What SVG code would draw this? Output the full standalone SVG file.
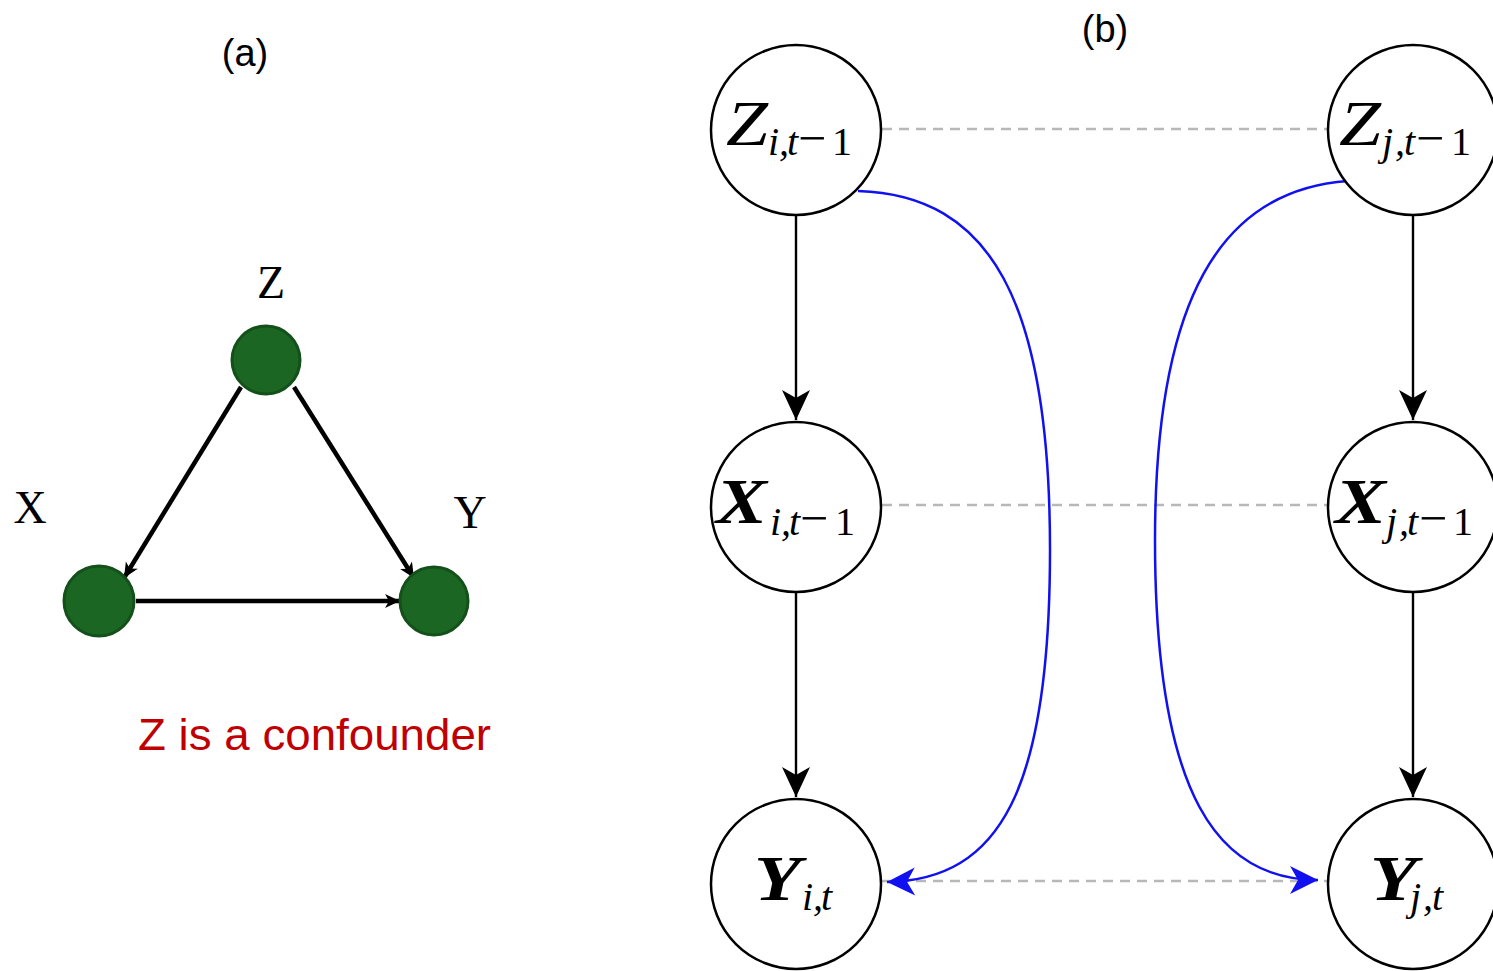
<svg xmlns="http://www.w3.org/2000/svg" width="1493" height="971" viewBox="0 0 1493 971">
<defs>
<style>
.lbl{font-family:"Liberation Sans",Arial,sans-serif;fill:#000}
.ser{font-family:"Liberation Serif","Times New Roman",serif;fill:#000}
.gn{fill:#1b6623;stroke:#14501a;stroke-width:3}
.bn{fill:#fff;stroke:#000;stroke-width:2.5}
.main{font-family:"Liberation Serif","Times New Roman",serif;font-style:italic;font-size:64px;fill:#000}
.sub{font-family:"Liberation Serif","Times New Roman",serif;font-style:italic;font-size:40px;fill:#000}
.up{font-style:normal}
.mn{font-style:normal;font-size:50px}
.ea{stroke:#000;stroke-width:4.5;fill:none}
.eb{stroke:#000;stroke-width:2.4;fill:none}
.dash{stroke:#b8b8b8;stroke-width:2.5;stroke-dasharray:10 7;fill:none}
.blue{stroke:#1010f0;stroke-width:2.5;fill:none}
</style>
<marker id="ma" viewBox="-16 -8 17 16" markerUnits="userSpaceOnUse" markerWidth="17" markerHeight="16" refX="0" refY="0" orient="auto">
<path d="M0,0 L-15,-7 L-11,0 L-15,7 Z" fill="#000"/>
</marker>
<marker id="mb" viewBox="-32 -16 34 32" markerUnits="userSpaceOnUse" markerWidth="34" markerHeight="32" refX="0" refY="0" orient="auto">
<path d="M0,0 L-30,-14 L-22,0 L-30,14 Z" fill="#000"/>
</marker>
<marker id="mblue" viewBox="-32 -16 34 32" markerUnits="userSpaceOnUse" markerWidth="34" markerHeight="32" refX="0" refY="0" orient="auto">
<path d="M0,0 L-28,-14 L-20,0 L-28,14 Z" fill="#1010f0"/>
</marker>
</defs>
<rect width="1493" height="971" fill="#fff"/>

<text class="lbl" x="245" y="66" font-size="38" text-anchor="middle">(a)</text>
<text class="lbl" x="1105" y="42" font-size="38" text-anchor="middle">(b)</text>

<g id="edges">
<line class="ea" x1="241" y1="387" x2="124" y2="578" marker-end="url(#ma)"/>
<line class="ea" x1="294" y1="387" x2="414" y2="578" marker-end="url(#ma)"/>
<line class="ea" x1="136" y1="601" x2="400" y2="601" marker-end="url(#ma)"/>

<line class="dash" x1="882" y1="129" x2="1328" y2="129"/>
<line class="dash" x1="882" y1="505" x2="1328" y2="505"/>
<line class="dash" x1="882" y1="881" x2="1328" y2="881"/>

<line class="eb" x1="796" y1="215" x2="796" y2="420" marker-end="url(#mb)"/>
<line class="eb" x1="796" y1="592" x2="796" y2="797" marker-end="url(#mb)"/>
<line class="eb" x1="1413" y1="215" x2="1413" y2="420" marker-end="url(#mb)"/>
<line class="eb" x1="1413" y1="592" x2="1413" y2="797" marker-end="url(#mb)"/>

<path class="blue" d="M858,191 C990,195 1050,300 1050,550 C1050,790 1000,880 887,882" marker-end="url(#mblue)"/>
<path class="blue" d="M1348,181 C1220,190 1155,300 1155,540 C1155,800 1220,880 1318,880" marker-end="url(#mblue)"/>
</g>

<g id="nodeZa"><circle class="gn" cx="266" cy="360" r="34"/><text class="ser" x="271" y="298" font-size="46" text-anchor="middle">Z</text></g>
<g id="nodeXa"><circle class="gn" cx="99" cy="601" r="35"/><text class="ser" x="30" y="523" font-size="46" text-anchor="middle">X</text></g>
<g id="nodeYa"><circle class="gn" cx="434" cy="601" r="34"/><text class="ser" x="470" y="528" font-size="46" text-anchor="middle">Y</text></g>

<text x="138" y="750" font-family="Liberation Sans,Arial,sans-serif" font-size="44" fill="#c00000" textLength="353" lengthAdjust="spacingAndGlyphs">Z is a confounder</text>

<g id="nodeZi"><circle class="bn" cx="796" cy="130" r="85"/>
<text class="main" x="726" y="145" textLength="42" lengthAdjust="spacingAndGlyphs">Z</text>
<text class="sub" y="155"><tspan x="768">i</tspan><tspan x="779">,</tspan><tspan x="787">t</tspan><tspan class="mn" x="798">−</tspan><tspan class="up" x="832">1</tspan></text></g>

<g id="nodeZj"><circle class="bn" cx="1413" cy="130" r="85"/>
<text class="main" x="1339" y="145" textLength="42" lengthAdjust="spacingAndGlyphs">Z</text>
<text class="sub" y="155"><tspan x="1382">j</tspan><tspan x="1395">,</tspan><tspan x="1404">t</tspan><tspan class="mn" x="1416">−</tspan><tspan class="up" x="1451">1</tspan></text></g>

<g id="nodeXi"><circle class="bn" cx="796" cy="507" r="85"/>
<text class="main" x="716" y="523" font-weight="bold" textLength="51" lengthAdjust="spacingAndGlyphs">X</text>
<text class="sub" y="535"><tspan x="770">i</tspan><tspan x="781">,</tspan><tspan x="789">t</tspan><tspan class="mn" x="800">−</tspan><tspan class="up" x="835">1</tspan></text></g>

<g id="nodeXj"><circle class="bn" cx="1413" cy="507" r="85"/>
<text class="main" x="1335" y="523" font-weight="bold" textLength="51" lengthAdjust="spacingAndGlyphs">X</text>
<text class="sub" y="535"><tspan x="1386">j</tspan><tspan x="1399">,</tspan><tspan x="1407">t</tspan><tspan class="mn" x="1419">−</tspan><tspan class="up" x="1453">1</tspan></text></g>

<g id="nodeYi"><circle class="bn" cx="796" cy="884" r="85"/>
<text class="main" x="754" y="900" font-weight="bold" textLength="47" lengthAdjust="spacingAndGlyphs">Y</text>
<text class="sub" y="910"><tspan x="802">i</tspan><tspan x="813">,</tspan><tspan x="821">t</tspan></text></g>

<g id="nodeYj"><circle class="bn" cx="1413" cy="884" r="85"/>
<text class="main" x="1370" y="900" font-weight="bold" textLength="47" lengthAdjust="spacingAndGlyphs">Y</text>
<text class="sub" y="910"><tspan x="1410">j</tspan><tspan x="1423">,</tspan><tspan x="1432">t</tspan></text></g>
</svg>
